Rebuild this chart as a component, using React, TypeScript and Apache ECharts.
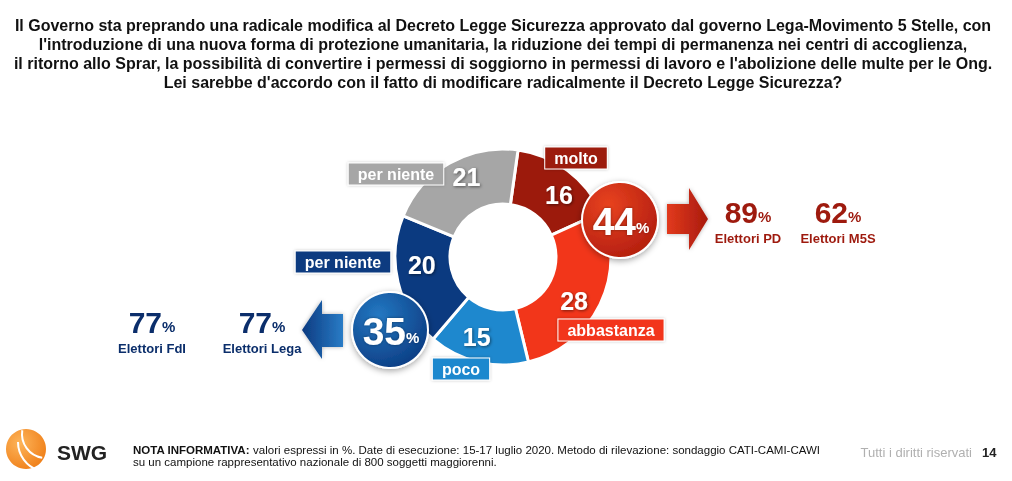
import React, { useEffect, useRef } from "react";
import * as echarts from "echarts";

const titleLines = [
  "Il Governo sta preprando una radicale modifica al Decreto Legge Sicurezza approvato dal governo Lega-Movimento 5 Stelle, con",
  "l'introduzione di una nuova forma di protezione umanitaria, la riduzione dei tempi di permanenza nei centri di accoglienza,",
  "il ritorno allo Sprar, la possibilità di convertire i permessi di soggiorno in permessi di lavoro e l'abolizione delle multe per le Ong.",
  "Lei sarebbe d'accordo con il fatto di modificare radicalmente il Decreto Legge Sicurezza?",
];

const categories = ["molto", "abbastanza", "poco", "per niente", "per niente"];
const values = [16, 28, 15, 20, 21];
const sliceColors = ["#9C1A0C", "#F2361A", "#1E88CE", "#0B3A80", "#A6A6A6"];

const agreeVoters = ["Elettori PD", "Elettori M5S"];
const agreeValues = [89, 62];
const disagreeVoters = ["Elettori FdI", "Elettori Lega"];
const disagreeValues = [77, 77];

const tagPos: [number, number][] = [
  [576, 158],
  [611, 330],
  [461, 369],
  [343, 262],
  [396, 174],
];
const labelOffsets: [number, number][] = [
  [6, 5],
  [-4, 7],
  [-7, -1],
  [0, -12],
  [5, -8],
];

export default function App() {
  const ref = useRef<HTMLDivElement>(null);
  useEffect(() => {
    if (!ref.current) return;
    const chart = echarts.init(ref.current, null, { renderer: "svg" });
    const agreeTotal = values[0] + values[1];
    const disagreeTotal = values[2] + values[3];
    const red = "#9E1A0E";
    const navy = "#0B2E6B";
    const F = "'Liberation Sans', Arial, sans-serif";

    const tags = categories.map((c, i) => ({
      type: "text",
      x: tagPos[i][0],
      y: tagPos[i][1],
      z: 20,
      style: {
        text: c,
        fill: "#fff",
        font: `bold 16px ${F}`,
        align: "center",
        verticalAlign: "middle",
        backgroundColor: sliceColors[i],
        borderColor: "#fff",
        borderWidth: 1,
        padding: [3, 9, 2, 9],
        shadowColor: "rgba(0,0,0,0.25)",
        shadowBlur: 3,
      },
    }));

    const bubble = (cx: number, cy: number, val: number, c1: string, c2: string) => [
      {
        type: "circle",
        z: 30,
        shape: { cx, cy, r: 38 },
        style: {
          fill: new echarts.graphic.RadialGradient(0.35, 0.3, 0.8, [
            { offset: 0, color: c1 },
            { offset: 1, color: c2 },
          ]),
          stroke: "#fff",
          lineWidth: 2,
          shadowColor: "rgba(0,0,0,0.35)",
          shadowBlur: 6,
          shadowOffsetY: 2,
        },
      },
      {
        type: "text",
        z: 31,
        x: cx + 1,
        y: cy + 1,
        style: {
          text: `{a|${val}}{b|%}`,
          align: "center",
          verticalAlign: "middle",
          rich: {
            a: { fill: "#fff", font: `bold 39px ${F}`, verticalAlign: "bottom" },
            b: { fill: "#fff", font: `bold 15px ${F}`, padding: [12, 0, 0, 0] },
          },
          textShadowColor: "rgba(0,0,0,0.4)",
          textShadowBlur: 3,
        },
      },
    ];

    const voterBlock = (x: number, val: number, label: string, color: string, yv: number) => [
      {
        type: "text",
        x,
        y: yv,
        style: {
          text: `{a|${val}}{b|%}`,
          align: "center",
          verticalAlign: "middle",
          rich: {
            a: { fill: color, font: `bold 30px ${F}` },
            b: { fill: color, font: `bold 15px ${F}`, padding: [8, 0, 0, 0] },
          },
        },
      },
      {
        type: "text",
        x,
        y: yv + 26,
        style: {
          text: label,
          fill: color,
          font: `bold 13px ${F}`,
          align: "center",
          verticalAlign: "middle",
        },
      },
    ];

    const graphics: any[] = [
      {
        type: "text",
        x: 503,
        y: 15.5,
        style: {
          text: titleLines.join("\n"),
          font: `bold 16px ${F}`,
          lineHeight: 19,
          fill: "#111",
          align: "center",
          verticalAlign: "top",
        },
      },
      ...tags,
      {
        type: "polygon",
        z: 25,
        shape: { points: [[667, 204], [689, 204], [689, 188], [708, 219], [689, 250], [689, 234], [667, 234]] },
        style: {
          fill: new echarts.graphic.LinearGradient(0, 0, 1, 0, [
            { offset: 0, color: "#E23A1C" },
            { offset: 1, color: "#A81A0E" },
          ]),
          shadowColor: "rgba(0,0,0,0.3)",
          shadowBlur: 4,
        },
      },
      {
        type: "polygon",
        z: 25,
        shape: { points: [[343, 314], [322, 314], [322, 300], [302, 330], [322, 359], [322, 347], [343, 347]] },
        style: {
          fill: new echarts.graphic.LinearGradient(1, 0, 0, 0, [
            { offset: 0, color: "#2A7CC6" },
            { offset: 1, color: "#0B3A80" },
          ]),
          shadowColor: "rgba(0,0,0,0.3)",
          shadowBlur: 4,
        },
      },
      ...bubble(620, 220, agreeTotal, "#E8421F", "#B01C0E"),
      ...bubble(390, 330, disagreeTotal, "#2378C2", "#0B3A80"),
      ...voterBlock(748, agreeValues[0], agreeVoters[0], red, 212),
      ...voterBlock(838, agreeValues[1], agreeVoters[1], red, 212),
      ...voterBlock(262, disagreeValues[1], disagreeVoters[1], navy, 322),
      ...voterBlock(152, disagreeValues[0], disagreeVoters[0], navy, 322),
      // footer logo
      {
        type: "circle",
        shape: { cx: 26, cy: 449, r: 20 },
        style: {
          fill: new echarts.graphic.RadialGradient(0.35, 0.35, 0.8, [
            { offset: 0, color: "#FDB45A" },
            { offset: 1, color: "#EE7A12" },
          ]),
        },
      },
      {
        type: "arc",
        shape: { cx: 46, cy: 434, r: 24, startAngle: Math.PI * 0.55, endAngle: Math.PI * 1.05 },
        style: { stroke: "#fff", lineWidth: 2, fill: "none" },
      },
      {
        type: "arc",
        shape: { cx: 48, cy: 442, r: 30, startAngle: Math.PI * 0.6, endAngle: Math.PI * 1.0 },
        style: { stroke: "#fff", lineWidth: 2, fill: "none" },
      },
      {
        type: "text",
        x: 57,
        y: 452,
        style: {
          text: "SWG",
          font: `bold 21px ${F}`,
          fill: "#222",
          verticalAlign: "middle",
        },
      },
      {
        type: "text",
        x: 133,
        y: 444,
        style: {
          text: "{b|NOTA INFORMATIVA:} valori espressi in %. Date di esecuzione: 15-17 luglio 2020. Metodo di rilevazione: sondaggio CATI-CAMI-CAWI\nsu un campione rappresentativo nazionale di 800 soggetti maggiorenni.",
          font: `11.5px ${F}`,
          fill: "#111",
          lineHeight: 12,
          rich: {
            b: { font: `bold 11.5px ${F}`, fill: "#111", lineHeight: 12 },
          },
        },
      },
      {
        type: "text",
        x: 972,
        y: 452,
        style: {
          text: "Tutti i diritti riservati",
          font: `13px ${F}`,
          fill: "#B0B0B0",
          align: "right",
          verticalAlign: "middle",
        },
      },
      {
        type: "text",
        x: 982,
        y: 452,
        style: {
          text: "14",
          font: `bold 13px ${F}`,
          fill: "#222",
          verticalAlign: "middle",
        },
      },
    ];

    chart.setOption({
      animation: false,
      series: [
        {
          type: "pie",
          center: [503, 257],
          radius: [53, 108],
          startAngle: 82,
          clockwise: true,
          avoidLabelOverlap: false,
          itemStyle: { borderColor: "#fff", borderWidth: 3 },
          label: {
            show: true,
            position: "inside",
            formatter: "{c}",
            color: "#fff",
            fontSize: 25,
            fontWeight: "bold",
            fontFamily: F,
            textShadowColor: "rgba(0,0,0,0.5)",
            textShadowBlur: 3,
            textShadowOffsetX: 1,
            textShadowOffsetY: 1,
          },
          labelLine: { show: false },
          data: values.map((v, i) => ({
            value: v,
            name: categories[i] + " " + i,
            itemStyle: { color: sliceColors[i] },
            label: { offset: labelOffsets[i] },
          })),
        },
      ],
      graphic: graphics,
    });
    return () => chart.dispose();
  }, []);
  return <div ref={ref} style={{ position: "fixed", left: 0, top: 0, width: 1012, height: 481 }} />;
}
